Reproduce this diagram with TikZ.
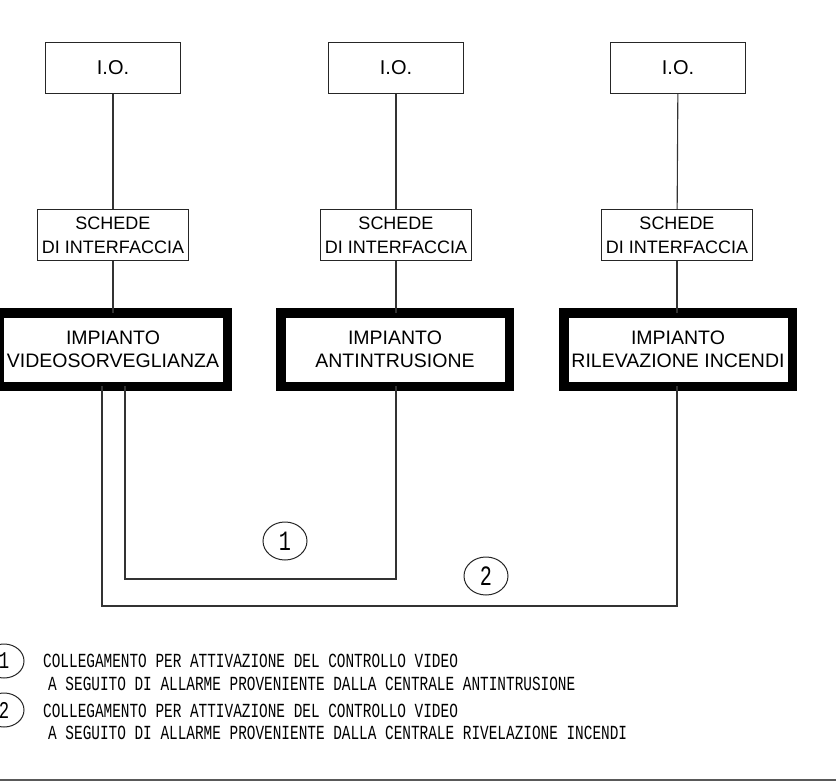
\documentclass[tikz,border=0pt]{standalone}
\usepackage{fontspec}
\setmainfont{Liberation Sans}
\newfontfamily\cadfont[FakeStretch=0.72]{Liberation Mono}
\usetikzlibrary{shapes.geometric}
\begin{document}
\begin{tikzpicture}[x=1pt,y=-1pt,
  iobox/.style={draw=black!85, line width=1.3pt, minimum width=135pt, minimum height=51pt, inner sep=0pt, font=\fontsize{20}{24}\selectfont},
  ifbox/.style={draw=black!85, line width=1.1pt, minimum width=151pt, minimum height=51pt, inner sep=0pt, align=center, font=\fontsize{18}{24}\selectfont},
  plant/.style={draw, line width=9.5pt, minimum width=228.5pt, minimum height=73.5pt, inner sep=0pt, outer sep=0pt, align=center, font=\fontsize{19.5}{23}\selectfont},
  link/.style={draw=black!80, line width=1.1pt},
  num/.style={ellipse, draw=black!85, line width=1pt, minimum width=44pt, minimum height=38pt, inner sep=0pt, font=\cadfont\fontsize{28}{28}\selectfont},
  lnum/.style={ellipse, draw=black!85, line width=1pt, minimum width=40pt, minimum height=34pt, inner sep=0pt, font=\cadfont\fontsize{24}{24}\selectfont},
  legend/.style={anchor=west, inner sep=0pt, font=\cadfont\fontsize{20}{20}\selectfont}
]
\useasboundingbox (0,0) rectangle (836,782);

% I.O. boxes
\node[iobox] (io1) at (113,68) {I.O.};
\node[iobox] (io2) at (396,68) {I.O.};
\node[iobox] (io3) at (678,68) {I.O.};

% interface boards
\node[ifbox] (if1) at (113,235) {SCHEDE\\DI INTERFACCIA};
\node[ifbox] (if2) at (396,235) {SCHEDE\\DI INTERFACCIA};
\node[ifbox] (if3) at (677,235) {SCHEDE\\DI INTERFACCIA};

% plants
\node[plant] (vid) at (113,349.5) {IMPIANTO\\VIDEOSORVEGLIANZA};
\node[plant] (anti) at (395,349.5) {IMPIANTO\\ANTINTRUSIONE};
\node[plant] (fire) at (678,349.5) {IMPIANTO\\RILEVAZIONE INCENDI};

% vertical links
\draw[link] (io1) -- (if1);
\draw[link] (io2) -- (if2);
\draw[link] (io3) -- (if3);
\draw[link] (if1) -- (vid);
\draw[link] (if2.south) -- (anti.north -| if2.south);
\draw[link] (if3.south) -- (fire.north -| if3.south);

% cross links
\coordinate (k1) at (125,579);
\coordinate (k2) at (102,606);
\draw[link] (vid.south -| k1) -- (k1) -| (anti.south -| io2.south);
\draw[link] (vid.south -| k2) -- (k2) -| (fire.south -| if3.south);

\node[num] (n1) at (285,541) {1};
\node[num] (n2) at (486,576) {2};

% legend
\node[lnum] (l1) at (4,661) {1};
\node[lnum] (l2) at (4,710) {2};
\node[legend] (t1) at (43,661) {COLLEGAMENTO PER ATTIVAZIONE DEL CONTROLLO VIDEO};
\node[legend] (t2) at (48,684) {A SEGUITO DI ALLARME PROVENIENTE DALLA CENTRALE ANTINTRUSIONE};
\node[legend] (t3) at (43,711) {COLLEGAMENTO PER ATTIVAZIONE DEL CONTROLLO VIDEO};
\node[legend] (t4) at (48,733) {A SEGUITO DI ALLARME PROVENIENTE DALLA CENTRALE RIVELAZIONE INCENDI};

% bottom frame line
\draw[line width=2pt, black!65] (0,780) -- (836,780);
\end{tikzpicture}
\end{document}
